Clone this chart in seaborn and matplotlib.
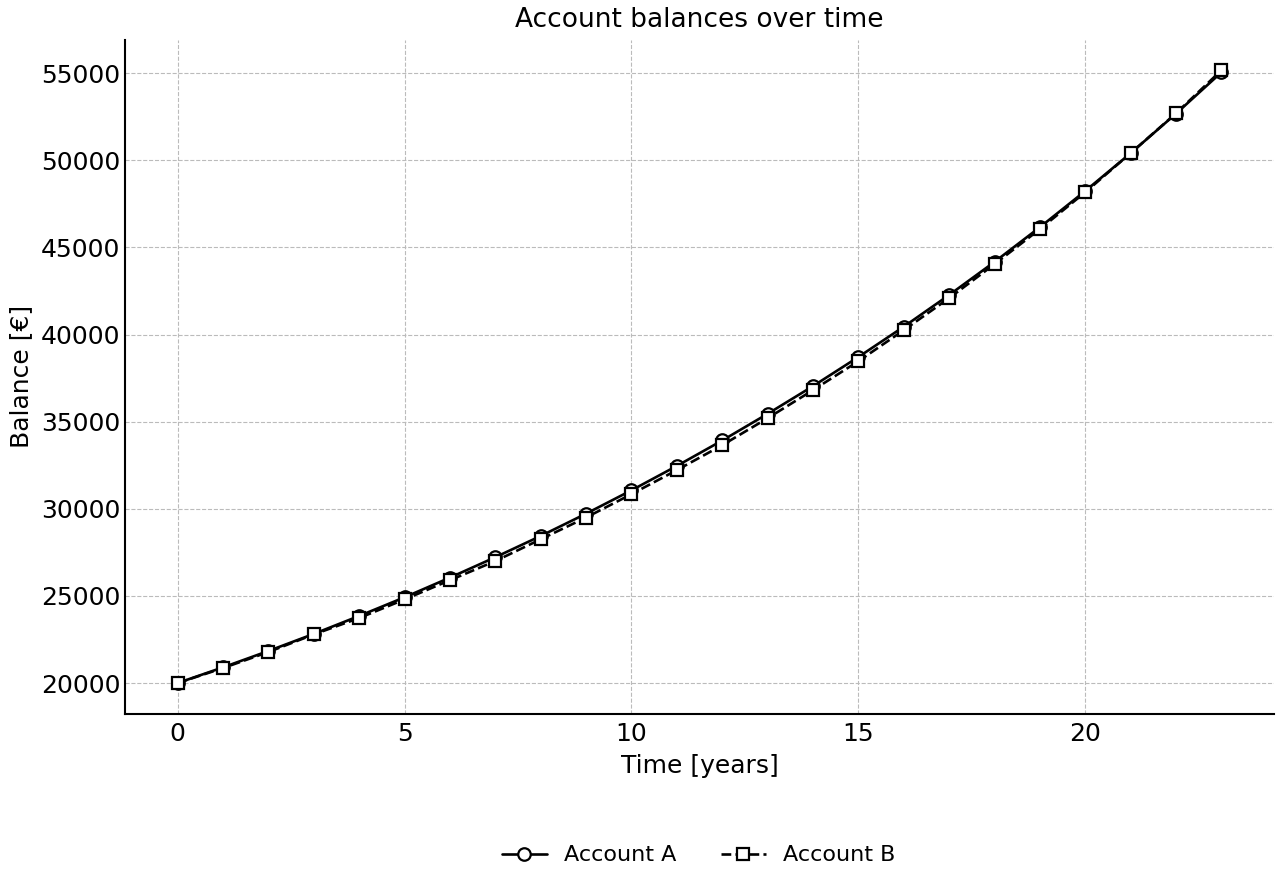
import pandas as pd
import matplotlib
matplotlib.use("Agg")
import matplotlib.pyplot as plt
import seaborn as sns

# values
years = list(range(24))
account_a = [20000, 20900, 21840, 22820, 23850, 24920, 26050, 27220, 28440, 29720,
             31060, 32460, 33920, 35450, 37040, 38710, 40450, 42270, 44170, 46160,
             48240, 50410, 52680, 55050]
account_b = [20000, 20860, 21780, 22790, 23730, 24800, 25900, 27000, 28250, 29500,
             30840, 32220, 33650, 35200, 36810, 38470, 40250, 42090, 44040, 46050,
             48170, 50410, 52700, 55170]

df = pd.DataFrame({"Time": years, "Account A": account_a, "Account B": account_b})

sns.set_style("white", {"text.color": "black", "axes.labelcolor": "black",
                        "xtick.color": "black", "ytick.color": "black",
                        "axes.edgecolor": "black"})
plt.rcParams["font.family"] = ["DejaVu Sans"]
plt.rcParams["font.size"] = 18

fig, ax = plt.subplots(figsize=(12.8, 8.8), dpi=100)
fig.subplots_adjust(left=0.098, right=0.995, top=0.955, bottom=0.189)

sns.lineplot(data=df, x="Time", y="Account A", ax=ax, color="black", linestyle="-",
             marker="o", markersize=9, markerfacecolor="white", markeredgecolor="black",
             markeredgewidth=1.6, linewidth=1.9, label="Account A")
sns.lineplot(data=df, x="Time", y="Account B", ax=ax, color="black", linestyle="--",
             marker="s", markersize=9, markerfacecolor="white", markeredgecolor="black",
             markeredgewidth=1.6, linewidth=1.9, label="Account B")

ax.set_title("Account balances over time", fontsize=19, pad=9)
ax.set_xlabel("Time [years]", fontsize=18, labelpad=6)
ax.set_ylabel("Balance [€]", fontsize=18, labelpad=6)
ax.set_xticks([0, 5, 10, 15, 20])
ax.tick_params(direction="in", labelsize=18, length=4, width=1.2)
ax.tick_params(axis="x", pad=6)
ax.grid(True, linestyle="--", color="#bbbbbb", linewidth=0.8)
sns.despine(ax=ax)
for s in ["left", "bottom"]:
    ax.spines[s].set_linewidth(1.5)
    ax.spines[s].set_color("black")

ax.get_legend().remove()
handles, labels = ax.get_legend_handles_labels()
fig.legend(handles, labels, loc="lower center", ncol=2, frameon=False,
           bbox_to_anchor=(0.546, -0.006), fontsize=16, columnspacing=2.0)

fig.savefig("out.png", dpi=100)
